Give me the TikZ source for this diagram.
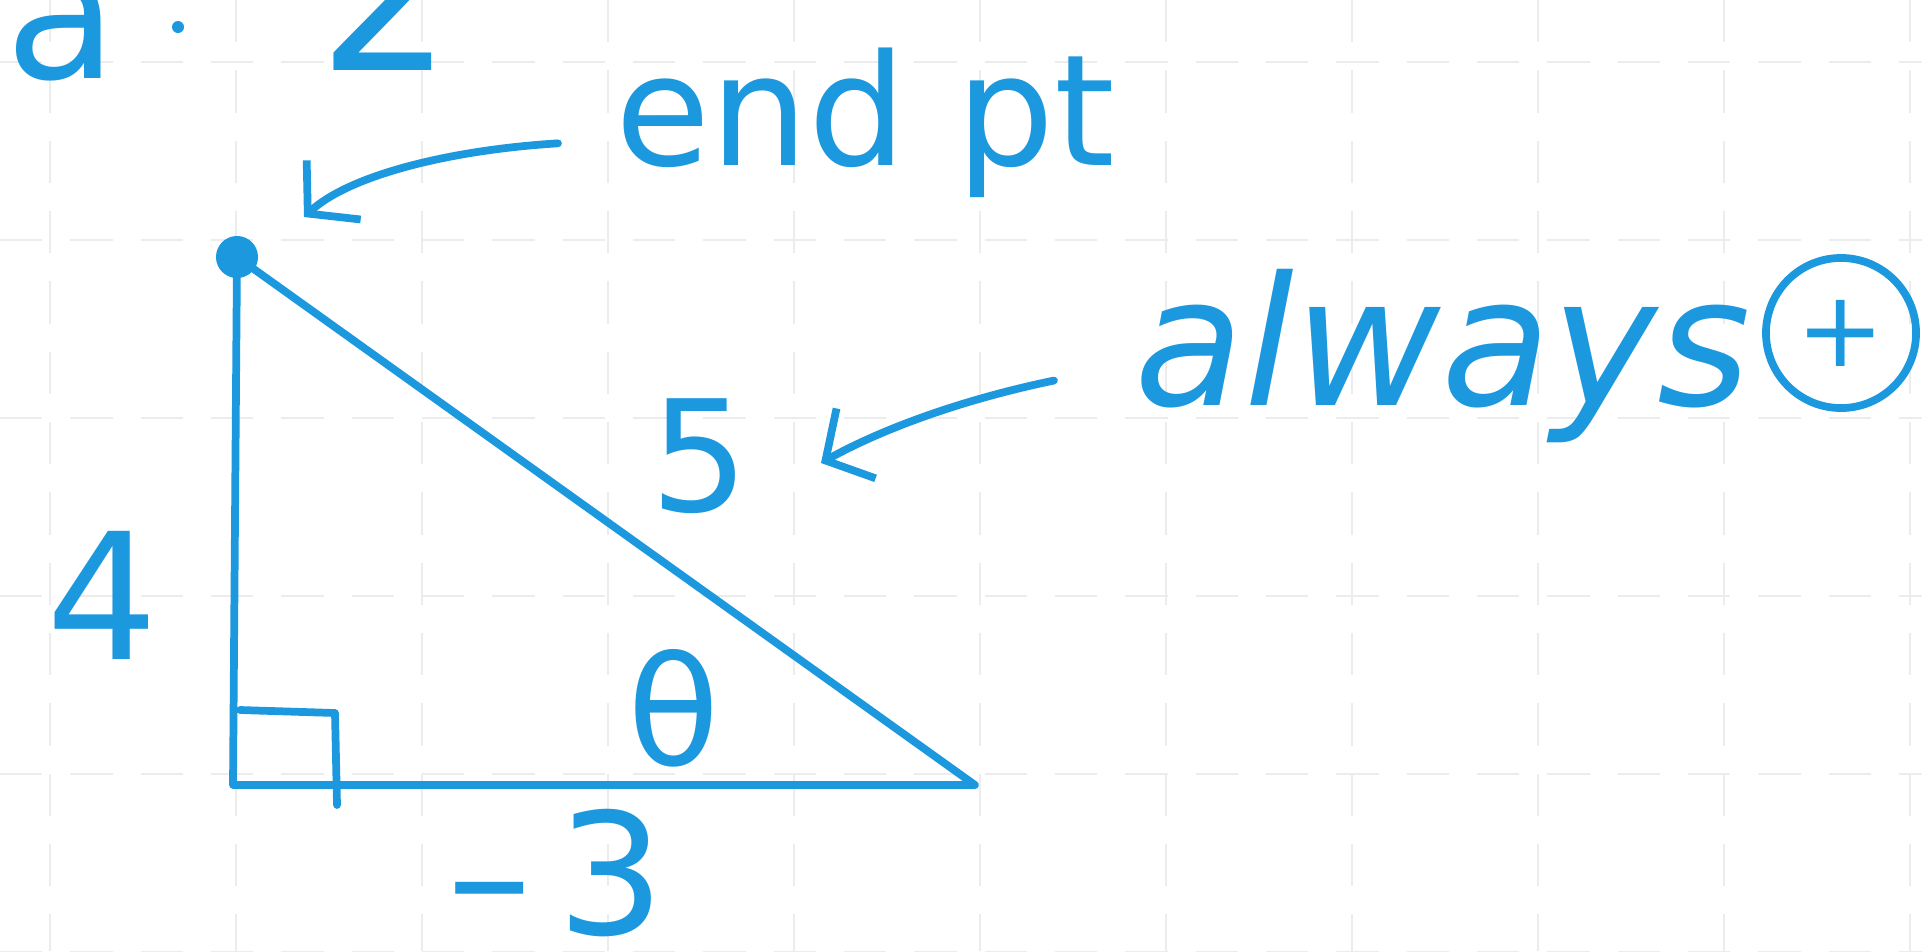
\documentclass[tikz,border=0pt]{standalone}
\usepackage{fontspec}
\setmainfont{DejaVu Sans}
\usetikzlibrary{arrows.meta,positioning}
\definecolor{inkblue}{RGB}{28,152,222}
\definecolor{gridgray}{RGB}{236,236,236}
\tikzset{%
	ink/.style       = {inkblue, line width=2.2pt, line cap=round, line join=round},
	handarrow/.style = {ink, -{Straight Barb[length=3.5mm,width=8mm]}},
	label/.style     = {text=inkblue, font=\fontsize{44}{48}\selectfont, inner sep=0pt},
	gridline/.style  = {gridgray, line width=0.8pt, dash pattern=on 12pt off 8pt},
}

\begin{document}
\begin{tikzpicture}[x=0.01cm,y=-0.01cm]
	\useasboundingbox (0,0) rectangle (1922,951);
	\clip (0,0) rectangle (1922,951);
	\fill[white] (0,0) rectangle (1922,951);
	% paper
	\foreach \gx in {50,236,...,1910} \draw[gridline] (\gx,0) -- (\gx,951);
	\foreach \gy in {62,240,...,952} \draw[gridline] (0,\gy) -- (1922,\gy);

	% cut off line at the top
	\node[label, anchor=base west, font=\fontsize{52}{56}\selectfont] (avar) at (5,78) {a};
	\node[circle, fill=inkblue, minimum size=0.12cm, inner sep=0pt] (sep) at (178,27) {};
	\node[label, anchor=base west, font=\fontsize{60}{64}\selectfont] (two) at (318,70) {2};

	% triangle
	\coordinate (top) at (237,257);
	\coordinate (corner) at (233,785);
	\coordinate (base) at (975,785);
	\draw[ink] (top) -- (corner) -- (base) -- cycle;
	\node[circle, fill=inkblue, minimum size=0.42cm, inner sep=0pt] (enddot) at (top) {};
	\draw[ink] (corner) ++(7,-75) -- ++(95,3) -- ++(2,92);

	\node[label] (hyp) at (700,456) {5};
	\node[label, font=\fontsize{50}{54}\selectfont] (side) at (102,595) {4};
	\node[label, font=\fontsize{43}{47}\selectfont] (angle) at (674,708) {θ};
	\node[label, font=\fontsize{48}{52}\selectfont] (bottom) at (556,873) {–\kern0.15em 3};

	% notes
	\node[label, anchor=base west] (endpt) at (615,165) {end pt};
	\node[label, anchor=base west, font=\fontsize{51}{55}\selectfont\itshape] (always) at (1134,405) {always};
	\node[circle, draw=inkblue, line width=2.2pt, minimum size=1.5cm, inner sep=0pt, text=inkblue, font=\fontsize{30}{34}\selectfont] (plus) at (1841,333) {+};

	\coordinate (tipA) at (304,217);
	\coordinate (tipB) at (821,463);
	\draw[handarrow] ([xshift=-0.57cm,yshift=-0.21cm]endpt.west) .. controls (450,150) and (350,175) .. (tipA);
	\draw[handarrow] ([xshift=-0.8cm,yshift=-0.25cm]always.west) .. controls (960,400) and (880,430) .. (tipB);
\end{tikzpicture}
\end{document}
